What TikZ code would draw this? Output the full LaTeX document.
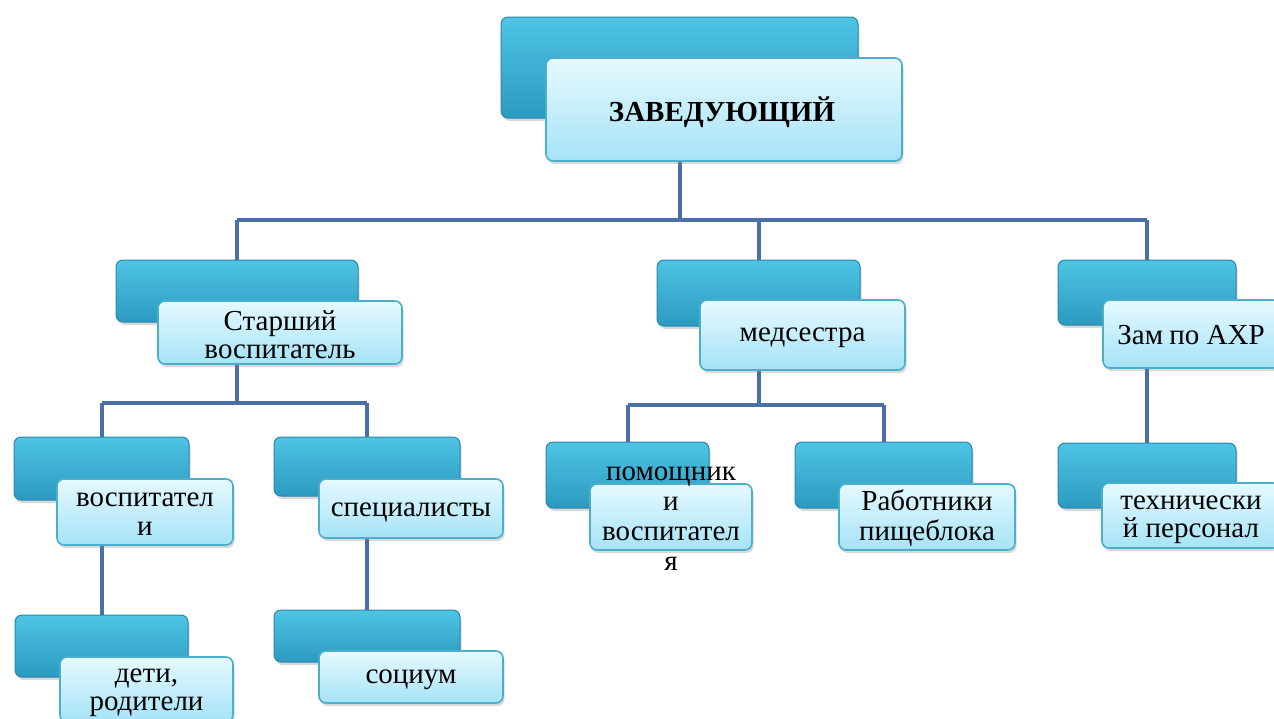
\documentclass[tikz,border=0pt]{standalone}
\usepackage{fontspec}
\setmainfont{Liberation Serif}
\usetikzlibrary{shadows}
\definecolor{darktop}{HTML}{4FC4E4}
\definecolor{darkbot}{HTML}{2B9AC0}
\definecolor{darkedge}{HTML}{2A88AA}
\definecolor{lighttop}{HTML}{E6F9FF}
\definecolor{lightbot}{HTML}{A5E3F6}
\definecolor{lightedge}{HTML}{4BAECD}
\definecolor{conncol}{HTML}{4A6EA6}
\tikzset{
  darkbox/.style={rounded corners=7pt, draw=darkedge, line width=1pt,
    top color=darktop, bottom color=darkbot, inner sep=0pt,
    drop shadow={opacity=0.3, shadow xshift=1.5pt, shadow yshift=-3pt}},
  lightbox/.style={rounded corners=7pt, draw=lightedge, line width=1.6pt,
    top color=lighttop, bottom color=lightbot, inner sep=0pt,
    drop shadow={opacity=0.3, shadow xshift=1.5pt, shadow yshift=-3pt}},
  lbl/.style={font=\fontsize{29}{28}\selectfont, align=center, text=black, inner sep=0pt},
  conn/.style={draw=conncol, line width=4pt}
}
\begin{document}
\begin{tikzpicture}[x=1pt,y=-1pt]
\useasboundingbox (0,0) rectangle (1274,718);
% anchor coordinates for the buses
\coordinate (bus) at (0,220);
\coordinate (busS) at (0,403);
\coordinate (busM) at (0,405);
% dark box centres
\path
  (679.5,67.5) coordinate (Zc)
  (237,291) coordinate (Sc)
  (758.5,293) coordinate (Mc)
  (1147,292.5) coordinate (Ac)
  (101.5,468.5) coordinate (Vc)
  (367,466.5) coordinate (SPc)
  (627.5,475) coordinate (Pc)
  (883.5,475) coordinate (Rc)
  (1147,475.5) coordinate (Tc)
  (101.5,646) coordinate (Dc)
  (367,636) coordinate (Soc);
% connectors
\draw[conn] (Zc) -- (Zc |- bus);
\draw[conn] (Sc |- bus) -- (Ac |- bus);
\draw[conn] (Sc |- bus) -- (Sc);
\draw[conn] (Mc |- bus) -- (Mc);
\draw[conn] (Ac |- bus) -- (Ac);
\draw[conn] (Sc) -- (Sc |- busS);
\draw[conn] (Vc |- busS) -- (SPc |- busS);
\draw[conn] (Vc |- busS) -- (Vc);
\draw[conn] (SPc |- busS) -- (SPc);
\draw[conn] (Mc) -- (Mc |- busM);
\draw[conn] (Pc |- busM) -- (Rc |- busM);
\draw[conn] (Pc |- busM) -- (Pc);
\draw[conn] (Rc |- busM) -- (Rc);
\draw[conn] (Ac) -- (Tc);
\draw[conn] (Vc) -- (Dc);
\draw[conn] (SPc) -- (Soc);
% boxes
\node[darkbox, minimum width=357pt, minimum height=101pt] (Zd) at (Zc) {};
\node[lightbox, minimum width=356pt, minimum height=103pt] (Zl) at (724,109.5) {};
\node[lbl, font=\fontsize{29}{30}\bfseries] (Zt) at (722,112) {ЗАВЕДУЮЩИЙ};

\node[darkbox, minimum width=242pt, minimum height=62pt] (Sd) at (Sc) {};
\node[lightbox, minimum width=244pt, minimum height=63pt] (Sl) at (280,332.5) {};
\node[lbl] (St) at (280,334.5) {Старший\\воспитатель};

\node[darkbox, minimum width=203pt, minimum height=66pt] (Md) at (Mc) {};
\node[lightbox, minimum width=205pt, minimum height=70pt] (Ml) at (802.5,335) {};
\node[lbl] (Mt) at (802.5,338) {медсестра};

\node[darkbox, minimum width=178pt, minimum height=65pt] (Ad) at (Ac) {};
\node[lightbox, minimum width=177pt, minimum height=68pt] (Al) at (1191.5,334) {};
\node[lbl] (At) at (1191,335) {Зам\kern-1pt\ по АХР};

\node[darkbox, minimum width=175pt, minimum height=63pt] (Vd) at (Vc) {};
\node[lightbox, minimum width=176pt, minimum height=66pt] (Vl) at (145,512) {};
\node[lbl, font=\fontsize{29}{29}\selectfont] (Vt) at (145,514) {воспитател\\и};

\node[darkbox, minimum width=186pt, minimum height=59pt] (SPd) at (SPc) {};
\node[lightbox, minimum width=184pt, minimum height=59pt] (SPl) at (411,508.5) {};
\node[lbl] (SPt) at (411,512) {специалисты};

\node[darkbox, minimum width=163pt, minimum height=66pt] (Pd) at (Pc) {};
\node[lightbox, minimum width=162pt, minimum height=66pt] (Pl) at (671,517) {};
\node[lbl, font=\fontsize{29}{30}\selectfont] (Pt) at (671,518.5) {помощник\\и\\воспитател\\я};

\node[darkbox, minimum width=177pt, minimum height=66pt] (Rd) at (Rc) {};
\node[lightbox, minimum width=176pt, minimum height=66pt] (Rl) at (927,517) {};
\node[lbl, font=\fontsize{29}{30}\selectfont] (Rt) at (927,518.5) {Работники\\пищеблока};

\node[darkbox, minimum width=178pt, minimum height=65pt] (Td) at (Tc) {};
\node[lightbox, minimum width=178pt, minimum height=65pt] (Tl) at (1191,515.5) {};
\node[lbl] (Tt) at (1191,519.5) {технически\\й персонал};

\node[darkbox, minimum width=173pt, minimum height=62pt] (Dd) at (Dc) {};
\node[lightbox, minimum width=173pt, minimum height=65pt] (Dl) at (146.5,689.5) {};
\node[lbl] (Dt) at (146.5,693) {дети,\\родители};

\node[darkbox, minimum width=186pt, minimum height=52pt] (Sod) at (Soc) {};
\node[lightbox, minimum width=184pt, minimum height=52pt] (Sol) at (411,677) {};
\node[lbl] (Sot) at (411,680) {социум};
\end{tikzpicture}
\end{document}
